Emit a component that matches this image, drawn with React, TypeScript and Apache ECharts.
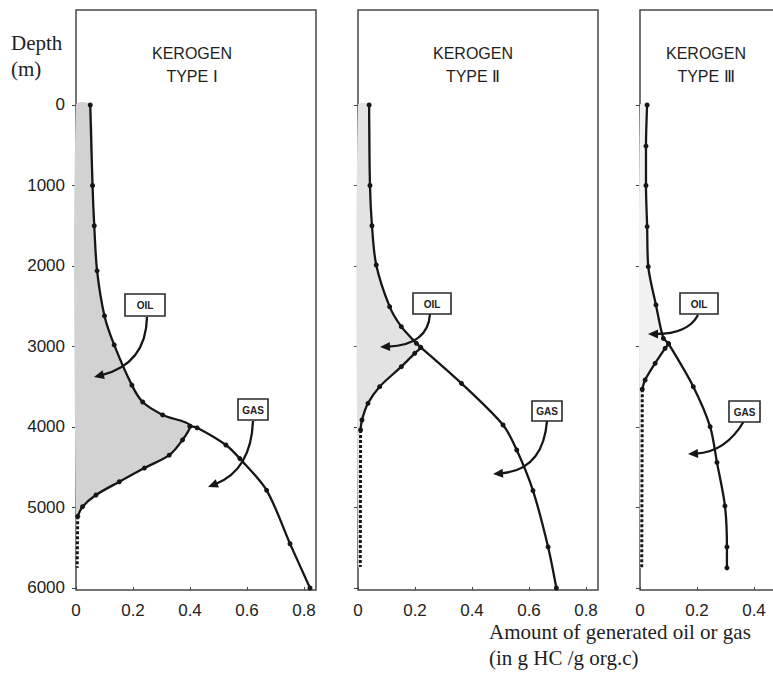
import React, { useEffect, useRef } from 'react';
import * as echarts from 'echarts';

// ---- tick labels ----
const depthTicks = [0, 1000, 2000, 3000, 4000, 5000, 6000];
const amountTicks = [0, 0.2, 0.4, 0.6, 0.8];
const panelTitleTop = ['KEROGEN', 'KEROGEN', 'KEROGEN'];
const panelTitleBottom = ['TYPE Ⅰ', 'TYPE Ⅱ', 'TYPE Ⅲ'];

// ---- Kerogen type I ----
const oil1Depth = [0, 1000, 1500, 2060, 2620, 2980, 3480, 3690, 3850, 3990, 4160, 4350, 4510, 4680, 4845, 4990, 5110];
const oil1Amount = [0.05, 0.058, 0.064, 0.074, 0.1, 0.134, 0.196, 0.234, 0.304, 0.4, 0.374, 0.327, 0.24, 0.152, 0.07, 0.023, 0.006];
const tail1Depth = [5110, 5750];
const tail1Amount = [0.006, 0.004];
const gas1Depth = [3990, 4010, 4224, 4393, 4787, 5450, 6000];
const gas1Amount = [0.4, 0.425, 0.526, 0.575, 0.669, 0.751, 0.821];

// ---- Kerogen type II ----
const oil2Depth = [0, 1000, 1500, 1988, 2505, 2754, 2961, 3010, 3085, 3251, 3499, 3706, 3913, 4037];
const oil2Amount = [0.039, 0.042, 0.049, 0.064, 0.111, 0.152, 0.205, 0.22, 0.199, 0.152, 0.076, 0.035, 0.014, 0.009];
const tail2Depth = [4037, 5740];
const tail2Amount = [0.009, 0.008];
const gas2Depth = [3010, 3458, 3975, 4286, 4790, 5490, 6000];
const gas2Amount = [0.22, 0.363, 0.509, 0.557, 0.614, 0.667, 0.696];

// ---- Kerogen type III ----
const oil3Depth = [0, 510, 1000, 1510, 2008, 2484, 2899, 2965, 3023, 3209, 3416, 3530];
const oil3Amount = [0.025, 0.021, 0.021, 0.025, 0.029, 0.056, 0.082, 0.1, 0.088, 0.053, 0.018, 0.008];
const tail3Depth = [3530, 5750];
const tail3Amount = [0.008, 0.006];
const gas3Depth = [2965, 3499, 3996, 4440, 4980, 5490, 5750];
const gas3Amount = [0.1, 0.187, 0.246, 0.27, 0.298, 0.305, 0.305];

const zip = (xs: number[], ds: number[]) => xs.map((x, i) => [x, ds[i]]);

const panels = [
  { oil: zip(oil1Amount, oil1Depth), tail: zip(tail1Amount, tail1Depth), gas: zip(gas1Amount, gas1Depth), fill: '#d2d2d2' },
  { oil: zip(oil2Amount, oil2Depth), tail: zip(tail2Amount, tail2Depth), gas: zip(gas2Amount, gas2Depth), fill: '#e3e3e3' },
  { oil: zip(oil3Amount, oil3Depth), tail: zip(tail3Amount, tail3Depth), gas: zip(gas3Amount, gas3Depth), fill: '#f1f1f1' },
];

// layout (pixels)
const gridLeft = [76, 358, 640];
const gridWidth = [240, 240, 142];
const pxPerUnit = 285;
const titleX = [192, 473, 706];

const INK = '#161616';
const LABEL_FONT = 'Liberation Sans';

function arrow(sx: number, sy: number, cx: number, cy: number, ex: number, ey: number) {
  const dx = ex - cx, dy = ey - cy;
  const len = Math.hypot(dx, dy);
  const ux = dx / len, uy = dy / len;
  const L = 10, W = 4.5;
  const bx = ex - ux * L, by = ey - uy * L;
  return [
    {
      type: 'bezierCurve', z: 100,
      shape: { x1: sx, y1: sy, x2: bx + ux * 2, y2: by + uy * 2, cpx1: cx, cpy1: cy },
      style: { stroke: INK, lineWidth: 2.3, fill: null },
    },
    {
      type: 'polygon', z: 100,
      shape: { points: [[ex, ey], [bx - uy * W, by + ux * W], [bx + uy * W, by - ux * W]] },
      style: { fill: INK },
    },
  ];
}

function box(x: number, y: number, w: number, h: number, label: string) {
  return [
    {
      type: 'rect', z: 100,
      shape: { x, y, width: w, height: h },
      style: { fill: '#fff', stroke: '#2a2a2a', lineWidth: 1.6 },
    },
    {
      type: 'text', z: 101, x: x + w / 2, y: y + h / 2 + 0.5,
      style: { text: label, font: 'bold 10px "Liberation Sans"', fill: '#222', textAlign: 'center', textVerticalAlign: 'middle' },
    },
  ];
}

function text(x: number, y: number, str: string, font: string, align = 'left') {
  return {
    type: 'text', z: 100, x, y,
    style: { text: str, font, fill: '#1e1e1e', textAlign: align, textVerticalAlign: 'middle' },
  };
}

export default function App() {
  const ref = useRef<HTMLDivElement>(null);

  useEffect(() => {
    if (!ref.current) return;
    const chart = echarts.init(ref.current, undefined, { renderer: 'svg' });

    const grid = gridLeft.map((l, i) => ({
      left: l, top: 10, width: gridWidth[i], height: 580,
      outerBoundsMode: 'none', containLabel: false,
      show: true, borderColor: '#474747', borderWidth: 1.5, backgroundColor: 'transparent',
    }));

    const xAxis = gridLeft.map((_, i) => ({
      gridIndex: i, type: 'value', min: 0, max: gridWidth[i] / pxPerUnit, position: 'bottom',
      axisLine: { show: false, onZero: false },
      axisTick: { show: true, inside: true, length: 3, customValues: amountTicks, lineStyle: { color: '#444', width: 1 } },
      axisLabel: {
        customValues: amountTicks, margin: 12, fontSize: 17, fontFamily: LABEL_FONT, color: '#222',
        formatter: (v: number) => (v === 0 ? '0' : v.toFixed(1)),
      },
      splitLine: { show: false },
    }));

    const yAxis = gridLeft.map((_, i) => ({
      gridIndex: i, type: 'value', inverse: true, min: -1180, max: 6025, position: 'left',
      axisLine: { show: false, onZero: false },
      axisTick: { show: true, length: 4, customValues: depthTicks, lineStyle: { color: '#444', width: 1 } },
      axisLabel: {
        show: i === 0, customValues: depthTicks, margin: 11, fontSize: 17, fontFamily: LABEL_FONT, color: '#222',
        formatter: (v: number) => String(v),
      },
      splitLine: { show: false },
    }));

    const series: any[] = [];
    panels.forEach((p, i) => {
      const fillPts = [...p.oil, ...p.tail.slice(1)];
      series.push({
        type: 'custom', name: 'oil area', coordinateSystem: 'cartesian2d', xAxisIndex: i, yAxisIndex: i,
        data: fillPts, z: 1, silent: true,
        renderItem: (params: any, api: any) => {
          if (params.dataIndex !== 0) return null;
          const first = fillPts[0];
          const last = fillPts[fillPts.length - 1];
          const pts = [api.coord([0, first[1]]), ...fillPts.map((d) => api.coord(d)), api.coord([0, last[1]])];
          return { type: 'polygon', shape: { points: pts, smooth: 0.3 }, style: { fill: p.fill } };
        },
      });
      series.push({
        type: 'line', name: 'Oil', xAxisIndex: i, yAxisIndex: i, data: p.oil, smooth: 0.3, z: 3,
        symbol: 'circle', symbolSize: 5, showSymbol: true,
        lineStyle: { color: INK, width: 2.3 }, itemStyle: { color: INK },
      });
      series.push({
        type: 'line', name: 'Oil (residual)', xAxisIndex: i, yAxisIndex: i, data: p.tail, z: 3,
        symbol: 'none', lineStyle: { color: INK, width: 3, type: [3, 2] },
      });
      series.push({
        type: 'line', name: 'Gas', xAxisIndex: i, yAxisIndex: i, data: p.gas, smooth: 0.3, z: 3,
        symbol: 'circle', symbolSize: 5, showSymbol: true,
        lineStyle: { color: INK, width: 2.3 }, itemStyle: { color: INK },
      });
    });

    const graphics: any[] = [];
    titleX.forEach((x, i) => {
      graphics.push(text(x, 53, panelTitleTop[i], '16px "Liberation Sans"', 'center'));
      graphics.push(text(x, 76, panelTitleBottom[i], '16px "Liberation Sans"', 'center'));
    });
    graphics.push(text(11, 43, 'Depth', '21px "Liberation Serif"'));
    graphics.push(text(11, 69, '(m)', '21px "Liberation Serif"'));
    graphics.push(text(489, 632, 'Amount of generated oil or gas', '21px "Liberation Serif"'));
    graphics.push(text(489, 658, '(in g HC /g org.c)', '21px "Liberation Serif"'));

    // Panel I
    graphics.push(...arrow(147, 317, 146, 364, 94, 377));
    graphics.push(...arrow(253, 421, 251, 470, 208, 487));
    graphics.push(...box(125, 294, 40, 22, 'OIL'));
    graphics.push(...box(238, 399, 30, 21, 'GAS'));
    // Panel II
    graphics.push(...arrow(430, 314, 428, 345, 380, 347));
    graphics.push(...arrow(547, 421, 543, 470, 493, 474));
    graphics.push(...box(413, 293, 38, 21, 'OIL'));
    graphics.push(...box(532, 401, 30, 20, 'GAS'));
    // Panel III
    graphics.push(...arrow(698, 315, 688, 334, 648, 334));
    graphics.push(...arrow(744, 421, 726, 452, 688, 454));
    graphics.push(...box(680, 293, 38, 21, 'OIL'));
    graphics.push(...box(729, 401, 31, 21, 'GAS'));

    chart.setOption({
      animation: false,
      backgroundColor: '#ffffff',
      grid, xAxis, yAxis, series,
      graphic: { elements: graphics },
    });

    return () => chart.dispose();
  }, []);

  return (
    <div
      ref={ref}
      style={{ position: 'absolute', left: 0, top: 0, width: 773, height: 675 }}
    />
  );
}
